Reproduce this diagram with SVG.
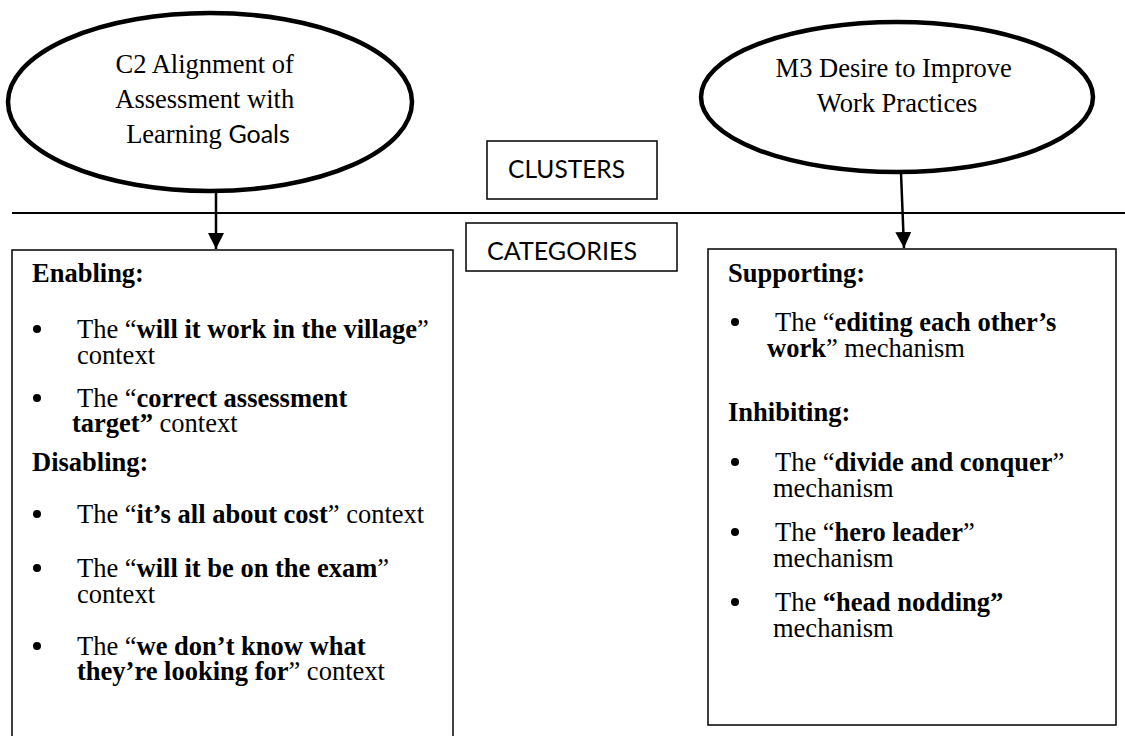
<svg xmlns="http://www.w3.org/2000/svg" width="1125" height="736" viewBox="0 0 1125 736">
<style>
.serif{font-family:"Liberation Serif","Times New Roman",serif;font-size:26.5px;fill:#000}
.sans{font-family:Lato,"Liberation Sans",sans-serif;fill:#000}
.b{font-weight:bold}
.ell{fill:#fff;stroke:#000;stroke-width:4.5}
.box{fill:#fff;stroke:#000;stroke-width:1.5}
.conn{stroke:#000;stroke-width:2.5;fill:none}
</style>
<defs>
<marker id="arrow" viewBox="0 0 16 16" refX="16" refY="8" markerWidth="16" markerHeight="16" markerUnits="userSpaceOnUse" orient="auto">
<path d="M0,0 L16,8 L0,16 Z" fill="#000"/>
</marker>
</defs>
<rect width="1125" height="736" fill="#fff"/>

<g id="divider">
<line x1="12" y1="213" x2="1125" y2="213" stroke="#000" stroke-width="2"/>
</g>

<g id="c2">
<ellipse class="ell" cx="210" cy="102" rx="202" ry="89"/>
<text class="serif" text-anchor="middle">
<tspan x="208" y="73">C2 Alignment of</tspan>
<tspan x="208" y="108">Assessment with</tspan>
<tspan x="208" y="143">Learning <tspan class="sans" font-size="25">Goals</tspan></tspan>
</text>
</g>

<g id="m3">
<ellipse class="ell" cx="897" cy="97" rx="196" ry="75"/>
<text class="serif" text-anchor="middle">
<tspan x="897" y="77">M3 Desire to Improve</tspan>
<tspan x="897" y="112">Work Practices</tspan>
</text>
</g>

<g id="clusters">
<rect class="box" x="487" y="141" width="170" height="58"/>
<text class="sans" x="508" y="178" font-size="25" textLength="117" lengthAdjust="spacingAndGlyphs">CLUSTERS</text>
</g>

<g id="categories">
<rect class="box" x="466" y="223" width="211" height="48"/>
<text class="sans" x="487" y="260" font-size="25" textLength="150" lengthAdjust="spacingAndGlyphs">CATEGORIES</text>
</g>

<g id="connectors">
<line class="conn" x1="216" y1="192" x2="216" y2="249" marker-end="url(#arrow)"/>
<line class="conn" x1="901" y1="173" x2="904" y2="248" marker-end="url(#arrow)"/>
</g>

<g id="left-box">
<rect class="box" x="12" y="250" width="441" height="500"/>
<text class="serif b" x="32" y="282">Enabling:</text>
<circle cx="37" cy="329" r="4"/>
<text class="serif" x="77" y="338">The “<tspan class="b">will it work in the village</tspan>”</text>
<text class="serif" x="77" y="364">context</text>
<circle cx="37" cy="398" r="4"/>
<text class="serif" x="77" y="407">The “<tspan class="b">correct assessment</tspan></text>
<text class="serif" x="72" y="432"><tspan class="b">target”</tspan> context</text>
<text class="serif b" x="32" y="471">Disabling:</text>
<circle cx="37" cy="514" r="4"/>
<text class="serif" x="77" y="523">The “<tspan class="b">it’s all about cost</tspan>” context</text>
<circle cx="37" cy="568" r="4"/>
<text class="serif" x="77" y="577">The “<tspan class="b">will it be on the exam</tspan>”</text>
<text class="serif" x="77" y="603">context</text>
<circle cx="37" cy="646" r="4"/>
<text class="serif" x="77" y="655">The “<tspan class="b">we don’t know what</tspan></text>
<text class="serif" x="77" y="680"><tspan class="b">they’re looking for</tspan>” context</text>
</g>

<g id="right-box">
<rect class="box" x="708" y="249" width="408" height="476"/>
<text class="serif b" x="728" y="282">Supporting:</text>
<circle cx="735" cy="322" r="4"/>
<text class="serif" x="775" y="331">The “<tspan class="b">editing each other’s</tspan></text>
<text class="serif" x="767" y="357"><tspan class="b">work</tspan>” mechanism</text>
<text class="serif b" x="728" y="421">Inhibiting:</text>
<circle cx="735" cy="462" r="4"/>
<text class="serif" x="775" y="471">The “<tspan class="b">divide and conquer</tspan>”</text>
<text class="serif" x="773" y="497">mechanism</text>
<circle cx="735" cy="532" r="4"/>
<text class="serif" x="775" y="541">The “<tspan class="b">hero leader</tspan>”</text>
<text class="serif" x="773" y="567">mechanism</text>
<circle cx="735" cy="602" r="4"/>
<text class="serif" x="775" y="611">The <tspan class="b">“head nodding”</tspan></text>
<text class="serif" x="773" y="637">mechanism</text>
</g>
</svg>
